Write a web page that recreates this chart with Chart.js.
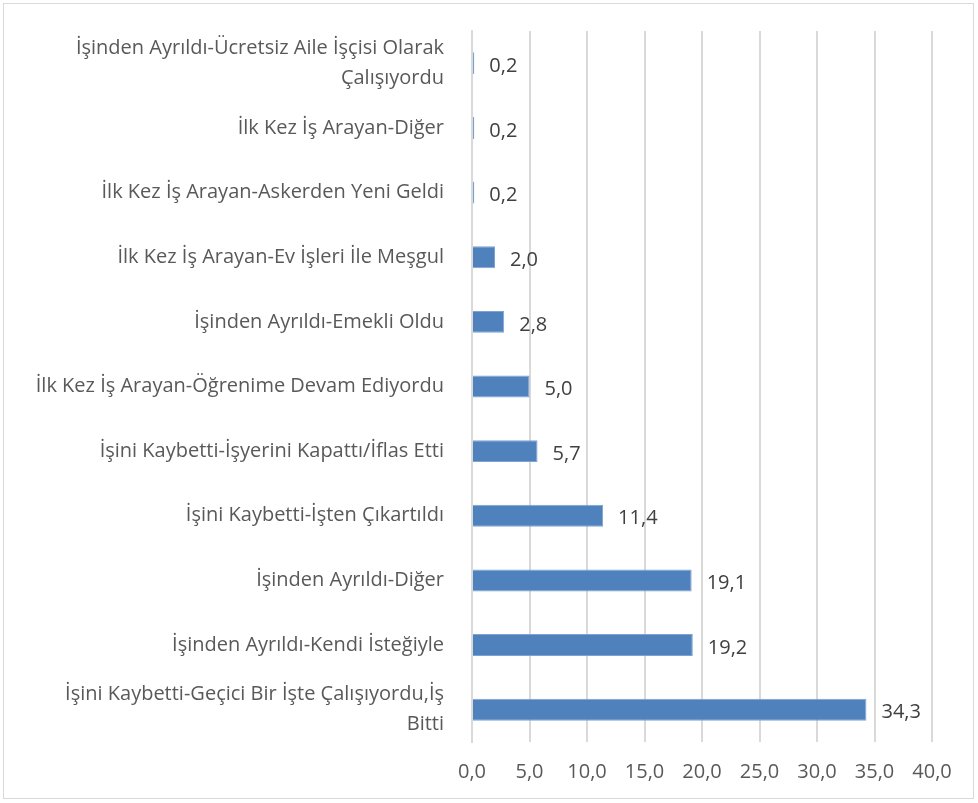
<!DOCTYPE html>
<html>
<head>
<meta charset="utf-8">
<script src="https://cdn.jsdelivr.net/npm/chart.js@4.4.1/dist/chart.umd.min.js"></script>
<style>
  html, body { margin: 0; padding: 0; background: #fff; }
  #frame { position: absolute; left: 3px; top: 3px; width: 971px; height: 796px; border: 1px solid #d9d9d9; box-sizing: border-box; }
  #chartReasons { position: absolute; left: 0; top: 0; }
</style>
</head>
<body>
<div id="frame"></div>
<canvas id="chartReasons" width="978" height="803"></canvas>
<script>
const categories = [
    ['İşinden Ayrıldı-Ücretsiz Aile İşçisi Olarak', 'Çalışıyordu'],
    'İlk Kez İş Arayan-Diğer',
    'İlk Kez İş Arayan-Askerden Yeni Geldi',
    'İlk Kez İş Arayan-Ev İşleri İle Meşgul',
    'İşinden Ayrıldı-Emekli Oldu',
    'İlk Kez İş Arayan-Öğrenime Devam Ediyordu',
    'İşini Kaybetti-İşyerini Kapattı/İflas Etti',
    'İşini Kaybetti-İşten Çıkartıldı',
    'İşinden Ayrıldı-Diğer',
    'İşinden Ayrıldı-Kendi İsteğiyle',
    ['İşini Kaybetti-Geçici Bir İşte Çalışıyordu,İş', 'Bitti']
];
const shares = [0.2, 0.2, 0.2, 2.0, 2.8, 5.0, 5.7, 11.4, 19.1, 19.2, 34.3];
const xTicks = [0, 5, 10, 15, 20, 25, 30, 35, 40];

const fmt = v => v.toFixed(1).replace('.', ',');
const FONT = '"Open Sans", Lato, sans-serif';

// value labels next to each bar
const valueLabels = {
    id: 'valueLabels',
    afterDatasetsDraw(chart) {
        const ctx = chart.ctx;
        const meta = chart.getDatasetMeta(0);
        ctx.save();
        ctx.font = '20px ' + FONT;
        ctx.fillStyle = '#404040';
        ctx.textBaseline = 'middle';
        ctx.textAlign = 'left';
        meta.data.forEach((bar, i) => {
            ctx.fillText(fmt(shares[i]), bar.x + 15, bar.y + 3);
        });
        ctx.restore();
    }
};

const ctxReasons = document.getElementById('chartReasons');
const chartReasons = new Chart(ctxReasons, {
    type: 'bar',
    data: {
        labels: categories,
        datasets: [{
            data: shares,
            backgroundColor: '#4f81bd',
            borderColor: '#7ea3d2',
            borderWidth: 1,
            barPercentage: 0.68,
            categoryPercentage: 0.5
        }]
    },
    plugins: [valueLabels],
    options: {
        indexAxis: 'y',
        responsive: false,
        animation: false,
        devicePixelRatio: 1,
        layout: { padding: { top: 31, right: 46, bottom: 0, left: 0 } },
        plugins: {
            legend: { display: false },
            tooltip: { enabled: false }
        },
        scales: {
            x: {
                min: 0,
                max: 40,
                afterBuildTicks: axis => { axis.ticks = xTicks.map(v => ({ value: v })); },
                afterFit: axis => { axis.height = 61; axis.paddingLeft = 0; axis.paddingRight = 0; },
                grid: { color: '#d9d9d9', lineWidth: 2, drawTicks: false },
                border: { display: false },
                ticks: {
                    color: '#595959',
                    padding: 18,
                    font: { family: FONT, size: 20 },
                    callback: v => fmt(v)
                }
            },
            y: {
                grid: { display: false },
                border: { color: '#d9d9d9', width: 2 },
                afterFit: axis => { axis.width = 472; axis.paddingTop = 0; axis.paddingBottom = 0; },
                ticks: {
                    autoSkip: false,
                    color: '#595959',
                    padding: 20,
                    font: { family: FONT, size: 20, lineHeight: 1.5 }
                }
            }
        }
    }
});
</script>
</body>
</html>
